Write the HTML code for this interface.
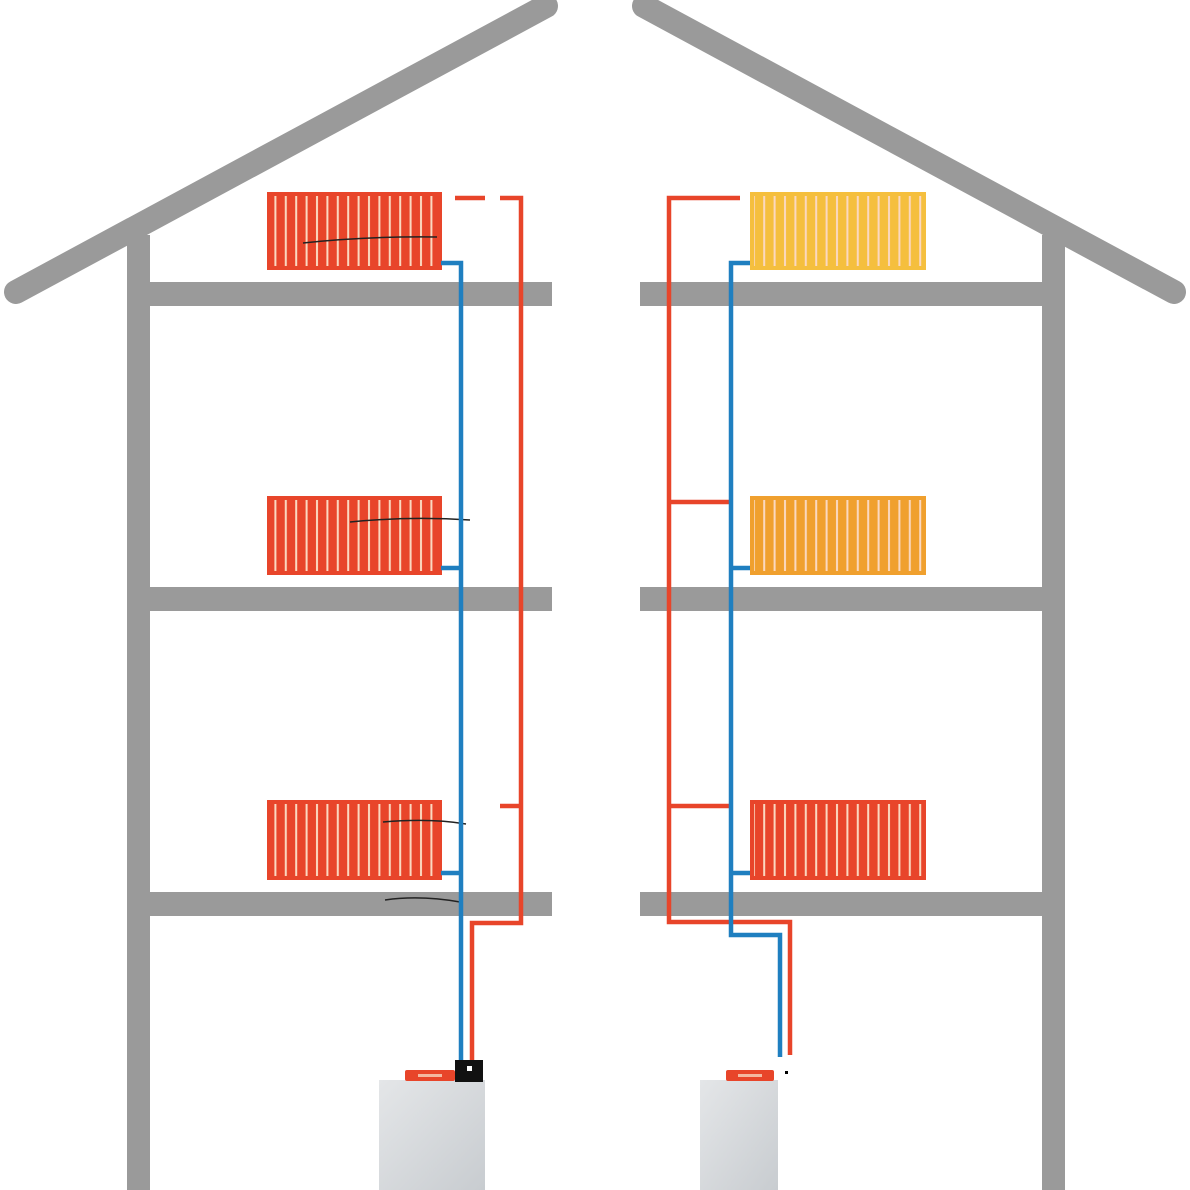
<!DOCTYPE html>
<html><head><style>html,body{margin:0;padding:0;background:#fff}svg{display:block}</style></head>
<body>
<svg width="1190" height="1190" viewBox="0 0 1190 1190" xmlns="http://www.w3.org/2000/svg">
<defs>
<pattern id="st" x="0" y="0" width="10.4" height="10" patternUnits="userSpaceOnUse">
<rect x="4" y="0" width="2" height="10" fill="#fbd8c0"/>
</pattern>
<linearGradient id="bg" x1="0" y1="0" x2="1" y2="1">
<stop offset="0" stop-color="#e4e6e8"/><stop offset="1" stop-color="#c8ccd0"/>
</linearGradient>
</defs>
<g fill="#9a9a9a" stroke="none">
<line x1="16" y1="292" x2="546" y2="6" stroke="#9a9a9a" stroke-width="24" stroke-linecap="round"/>
<rect x="127" y="235" width="23" height="955"/>
<rect x="127" y="282" width="425" height="24"/>
<rect x="127" y="587" width="425" height="24"/>
<rect x="127" y="892" width="425" height="24"/>
<line x1="644" y1="6" x2="1174" y2="292" stroke="#9a9a9a" stroke-width="24" stroke-linecap="round"/>
<rect x="1042" y="235" width="23" height="955"/>
<rect x="640" y="282" width="425" height="24"/>
<rect x="640" y="587" width="425" height="24"/>
<rect x="640" y="892" width="425" height="24"/>
</g>
<g>
<rect x="267" y="192" width="175" height="78" fill="#e8452a"/>
<rect x="271" y="196" width="167" height="70" fill="url(#st)"/>
<rect x="267" y="496" width="175" height="79" fill="#e8452a"/>
<rect x="271" y="500" width="167" height="71" fill="url(#st)"/>
<rect x="267" y="800" width="175" height="80" fill="#e8452a"/>
<rect x="271" y="804" width="167" height="72" fill="url(#st)"/>
<rect x="750" y="192" width="176" height="78" fill="#f5bf3e"/>
<rect x="754" y="196" width="168" height="70" fill="url(#st)"/>
<rect x="750" y="496" width="176" height="79" fill="#f0a02e"/>
<rect x="754" y="500" width="168" height="71" fill="url(#st)"/>
<rect x="750" y="800" width="176" height="80" fill="#e8452a"/>
<rect x="754" y="804" width="168" height="72" fill="url(#st)"/>
</g>
<g stroke="#222" stroke-width="1.5" fill="none">
<path d="M303 243 Q370 236 437 237"/>
<path d="M350 522 Q410 516 470 520"/>
<path d="M383 822 Q430 818 466 824"/>
<path d="M385 900 Q420 895 460 902"/>
</g>
<g fill="none" stroke-width="4.5" stroke-linejoin="miter">
<path d="M441 263 H461 V1062" stroke="#1f7fc0"/>
<path d="M441 568 H461" stroke="#1f7fc0"/>
<path d="M441 873 H461" stroke="#1f7fc0"/>
<path d="M500 198 H521 V923 H472 V1062" stroke="#e8452a"/>
<path d="M455 198 H485" stroke="#e8452a"/>
<path d="M500 806 H521" stroke="#e8452a"/>
<path d="M740 198 H669 V922 H790 V1055" stroke="#e8452a"/>
<path d="M669 502 H730" stroke="#e8452a"/>
<path d="M669 806 H730" stroke="#e8452a"/>
<path d="M750 263 H731 V935 H780 V1057" stroke="#1f7fc0"/>
<path d="M750 568 H731" stroke="#1f7fc0"/>
<path d="M750 873 H731" stroke="#1f7fc0"/>
</g>
<rect x="379" y="1080" width="106" height="110" fill="url(#bg)"/>
<rect x="405" y="1070" width="50" height="11" rx="2" fill="#e8452a"/>
<rect x="418" y="1074" width="24" height="3" fill="#f4b8a0"/>
<rect x="455" y="1060" width="28" height="22" fill="#111"/>
<rect x="467" y="1066" width="5" height="5" fill="#fff"/>
<rect x="700" y="1080" width="78" height="110" fill="url(#bg)"/>
<rect x="726" y="1070" width="48" height="11" rx="2" fill="#e8452a"/>
<rect x="738" y="1074" width="24" height="3" fill="#f4b8a0"/>
<rect x="785" y="1071" width="3" height="3" fill="#000"/>
</svg>
</body></html>
